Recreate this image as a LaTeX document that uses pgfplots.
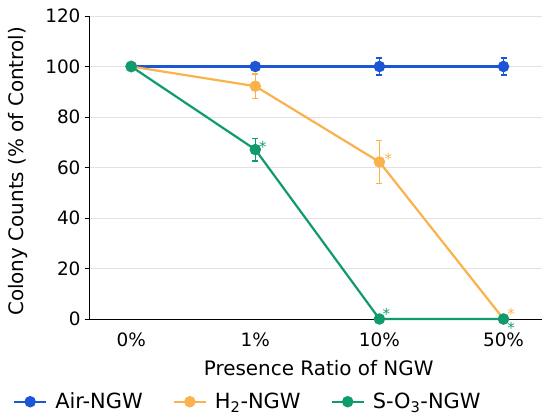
\documentclass[border=0pt]{standalone}
\usepackage{fontspec}
\setmainfont{DejaVu Sans}
\usepackage{pgfplots}
\pgfplotsset{compat=1.18}
\definecolor{cblue}{RGB}{28,86,214}
\definecolor{corange}{RGB}{250,178,76}
\definecolor{cgreen}{RGB}{16,155,110}
\definecolor{cgrid}{RGB}{226,226,226}
\tikzset{starnote/.style={font=\fontsize{15}{15}\selectfont, anchor=base, inner sep=0pt}}
\begin{document}
\begin{tikzpicture}
\begin{axis}[
  at={(0,0)}, anchor=south west,
  scale only axis, width=453bp, height=303bp,
  xmin=-0.34, xmax=3.31, ymin=0, ymax=120,
  xtick={0,1,2,3}, xticklabels={0\%,1\%,10\%,50\%},
  ytick={0,20,40,60,80,100,120},
  axis x line*=bottom, axis y line*=left,
  x axis line style={-, line width=0.9bp, black},
  y axis line style={-, line width=0.9bp, black},
  xtick style={draw=none},
  ytick style={line width=0.9bp, black},
  tick align=outside, major tick length=4bp,
  ymajorgrids, grid style={cgrid, line width=0.9bp},
  /pgf/number format/assume math mode=true,
  tick label style={font=\fontsize{18.5}{22}\selectfont},
  xticklabel style={yshift=-6bp},
  yticklabel style={xshift=-1bp},
  every axis x label/.style={at={(axis description cs:0.507,-0.163)}, anchor=center, font=\fontsize{20}{24}\selectfont},
  every axis y label/.style={at={(axis description cs:-0.157,0.487)}, rotate=90, anchor=center, font=\fontsize{20}{24}\selectfont},
  xlabel={Presence Ratio of NGW},
  ylabel={Colony Counts (\% of Control)},
  legend columns=3,
  legend cell align=left,
  legend style={at={(axis description cs:-0.168,-0.273)}, anchor=west, draw=none, fill=none,
    inner sep=0pt, font=\fontsize{21}{25}\selectfont,
    /tikz/every even column/.append style={column sep=28bp}},
  legend image code/.code={\draw[mark repeat=2,mark phase=2,#1] plot coordinates {(0bp,0bp) (16bp,0bp) (32bp,0bp)}; \path (38bp,0bp);},
  clip=false,
]
% error bars (drawn first, beneath the lines)
\addplot[forget plot, draw=none, mark=none,
  error bars/.cd, y dir=both, y explicit,
  error bar style={cblue, line width=1.4bp},
  error mark options={cblue, rotate=90, mark size=3bp, line width=1.4bp}]
  coordinates {(2,100) +- (0,3.4) (3,100) +- (0,3.4)};
\addplot[forget plot, draw=none, mark=none,
  error bars/.cd, y dir=both, y explicit,
  error bar style={corange, line width=1.4bp},
  error mark options={corange, rotate=90, mark size=3bp, line width=1.4bp}]
  coordinates {(1,92.2) +- (0,4.8) (2,62.2) +- (0,8.6)};
\addplot[forget plot, draw=none, mark=none,
  error bars/.cd, y dir=both, y explicit,
  error bar style={cgreen, line width=1.4bp},
  error mark options={cgreen, rotate=90, mark size=3bp, line width=1.4bp}]
  coordinates {(1,67.1) +- (0,4.5)};
% series
\addplot[cblue, line width=2.2bp, mark=*, mark size=4.6bp, mark options={solid, fill=cblue}]
  coordinates {(0,100) (1,100) (2,100) (3,100)};
\addlegendentry{Air-NGW}
\addplot[corange, line width=2.2bp, mark=*, mark size=4.6bp, mark options={solid, fill=corange}]
  coordinates {(0,100) (1,92.2) (2,62.2) (3,0)};
\addlegendentry{H\textsubscript{2}-NGW}
\addplot[cgreen, line width=2.2bp, mark=*, mark size=4.6bp, mark options={solid, fill=cgreen}]
  coordinates {(0,100) (1,67.1) (2,0) (3,0)};
\addlegendentry{S-O\textsubscript{3}-NGW}
\node[starnote, text=cgreen] at (axis cs:1,67.1) [xshift=7.5bp, yshift=-3bp] {*};
\node[starnote, text=corange] at (axis cs:2,62.2) [xshift=9bp, yshift=-3bp] {*};
\node[starnote, text=cgreen] at (axis cs:2,0) [xshift=7bp, yshift=-0.8bp] {*};
\node[starnote, text=corange] at (axis cs:3,0) [xshift=7.7bp, yshift=-0.3bp] {*};
\node[starnote, text=cgreen] at (axis cs:3,0) [xshift=7.7bp, yshift=-14.7bp] {*};
\end{axis}
\pgfresetboundingbox
\path[use as bounding box] (-89bp,-100bp) rectangle (461bp,319bp);
\end{tikzpicture}
\end{document}
